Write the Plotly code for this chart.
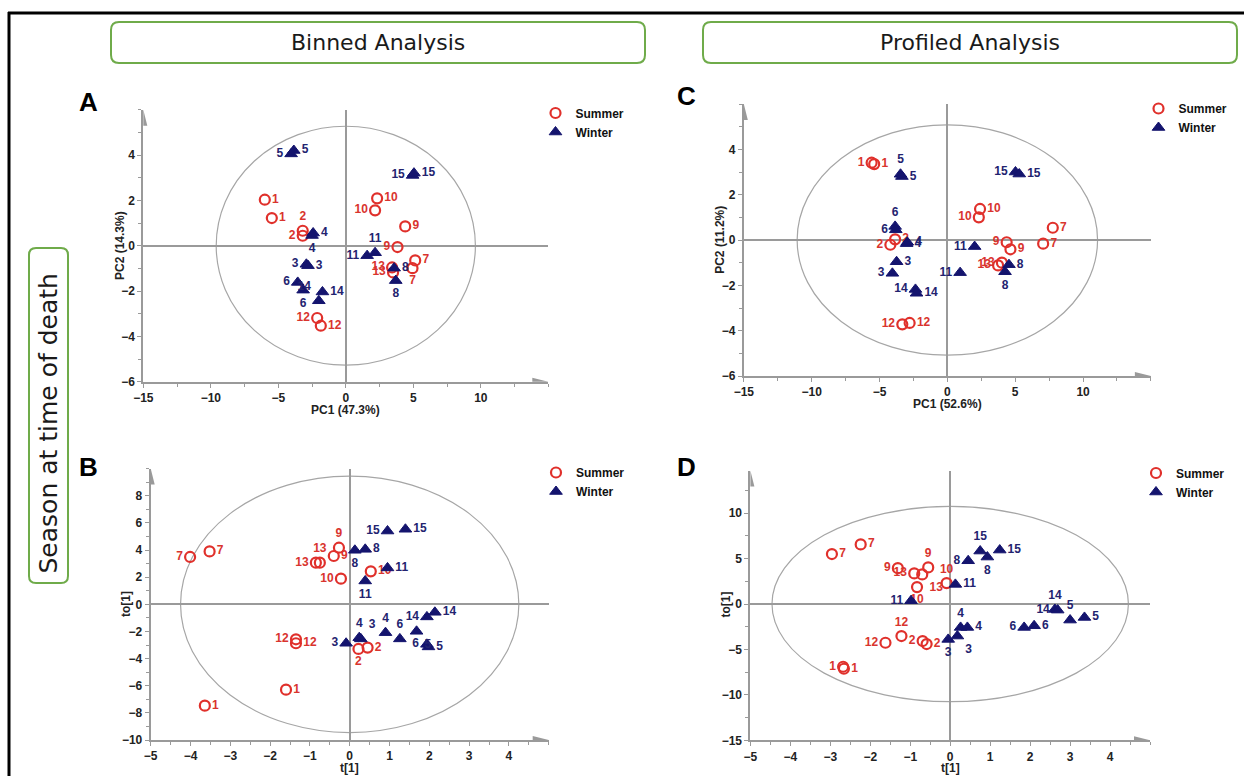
import plotly.graph_objects as go

W, H = 1244, 776

# ---------------- data ----------------
# Panel A : Binned PCA
A_sum_id = [1, 1, 2, 2, 7, 7, 9, 9, 10, 10, 12, 12, 13, 13]
A_sum_x = [-6.0, -5.48, -3.19, -3.19, 5.14, 4.94, 4.4, 3.83, 2.32, 2.17, -2.12, -1.85, 3.43, 3.5]
A_sum_y = [2.03, 1.22, 0.66, 0.44, -0.65, -0.99, 0.85, -0.06, 2.09, 1.56, -3.19, -3.53, -0.96, -1.18]
A_win_id = [3, 3, 4, 4, 5, 5, 6, 6, 8, 8, 11, 11, 14, 14, 15, 15]
A_win_x = [-2.92, -2.8, -2.42, -2.5, -4.05, -3.85, -3.56, -3.16, 3.58, 3.7, 2.17, 1.58, -1.73, -2.0, 4.95, 5.05]
A_win_y = [-0.82, -0.88, 0.56, 0.45, 4.05, 4.2, -1.62, -1.96, -0.99, -1.54, -0.31, -0.44, -2.04, -2.43, 3.1, 3.2]

# Panel B : Binned OPLS-DA
B_sum_id = [1, 1, 2, 2, 7, 7, 9, 9, 10, 10, 12, 12, 13, 13]
B_sum_x = [-1.6, -3.64, 0.22, 0.45, -4.01, -3.52, -0.27, -0.4, -0.22, 0.53, -1.35, -1.35, -0.85, -0.75]
B_sum_y = [-6.29, -7.47, -3.29, -3.19, 3.49, 3.9, 4.17, 3.56, 1.89, 2.43, -2.58, -2.87, 3.07, 3.07]
B_win_id = [3, 3, 4, 4, 5, 5, 6, 6, 8, 8, 11, 11, 14, 14, 15, 15]
B_win_x = [-0.09, 0.28, 0.24, 0.9, 1.68, 1.98, 1.26, 1.94, 0.13, 0.39, 0.95, 0.39, 2.14, 1.94, 0.95, 1.4]
B_win_y = [-2.87, -2.55, -2.46, -2.09, -1.99, -3.14, -2.55, -2.95, 3.98, 4.05, 2.68, 1.72, -0.59, -0.93, 5.4, 5.53]

# Panel C : Profiled PCA
C_sum_id = [1, 1, 2, 2, 7, 7, 9, 9, 10, 10, 12, 12, 13, 13]
C_sum_x = [-5.58, -5.39, -3.85, -4.2, 7.77, 7.06, 4.37, 4.65, 2.41, 2.32, -3.32, -2.78, 3.74, 4.02]
C_sum_y = [3.41, 3.35, 0.03, -0.21, 0.54, -0.16, -0.1, -0.41, 1.37, 1.0, -3.72, -3.66, -1.12, -1.0]
C_win_id = [3, 3, 4, 4, 5, 5, 6, 6, 8, 8, 11, 11, 14, 14, 15, 15]
C_win_x = [-3.74, -4.05, -3.0, -2.95, -3.45, -3.35, -3.85, -3.8, 4.54, 4.25, 2.01, 0.94, -2.35, -2.27, 5.02, 5.3]
C_win_y = [-0.96, -1.47, -0.16, -0.1, 2.9, 2.8, 0.6, 0.45, -1.09, -1.4, -0.29, -1.44, -2.18, -2.35, 3.0, 2.91]

# Panel D : Profiled OPLS-DA
D_sum_id = [1, 1, 2, 2, 7, 7, 9, 9, 10, 10, 12, 12, 13, 13]
D_sum_x = [-2.68, -2.66, -0.69, -0.59, -2.96, -2.24, -1.31, -0.55, -0.83, -0.09, -1.22, -1.62, -0.9, -0.7]
D_sum_y = [-6.9, -7.12, -4.07, -4.4, 5.51, 6.57, 3.96, 4.04, 1.87, 2.31, -3.52, -4.26, 3.38, 3.27]
D_win_id = [3, 3, 4, 4, 5, 5, 6, 6, 8, 8, 11, 11, 14, 14, 15, 15]
D_win_x = [-0.05, 0.18, 0.26, 0.43, 3.0, 3.36, 1.85, 2.1, 0.45, 0.93, 0.13, -0.98, 2.62, 2.69, 0.75, 1.24]
D_win_y = [-3.89, -3.52, -2.57, -2.57, -1.76, -1.47, -2.57, -2.39, 4.77, 5.18, 2.17, 0.37, -0.59, -0.66, 5.84, 5.95]

# Hotelling ellipse semi-axes (x, y) per panel
ellipse_A = [9.6, 5.27]
ellipse_B = [4.25, 9.45]
ellipse_C = [11.07, 5.08]
ellipse_D = [4.46, 10.75]

# axis titles / tick labels
x_titles = ["PC1 (47.3%)", "t[1]", "PC1 (52.6%)", "t[1]"]
y_titles = ["PC2 (14.3%)", "to[1]", "PC2 (11.2%)", "to[1]"]
A_xticks = [-15, -10, -5, 0, 5, 10]
A_yticks = [-6, -4, -2, 0, 2, 4]
B_xticks = [-5, -4, -3, -2, -1, 0, 1, 2, 3, 4]
B_yticks = [-10, -8, -6, -4, -2, 0, 2, 4, 6, 8]
C_xticks = [-15, -10, -5, 0, 5, 10]
C_yticks = [-6, -4, -2, 0, 2, 4]
D_xticks = [-5, -4, -3, -2, -1, 0, 1, 2, 3, 4]
D_yticks = [-15, -10, -5, 0, 5, 10]
series_names = ["Summer", "Winter"]
panel_letters = ["A", "B", "C", "D"]
headers = ["Binned Analysis", "Profiled Analysis"]
side_label = "Season at time of death"

# ---------------- styles ----------------
POS = {"R": "middle right", "L": "middle left", "T": "top center", "B": "bottom center",
       "BR": "bottom right", "TR": "top right", "TL": "top left", "BL": "bottom left"}
A_sum_pos = ["R", "R", "T", "L", "R", "B", "R", "L", "R", "L", "L", "R", "L", "L"]
A_win_pos = ["L", "R", "R", "B", "L", "R", "L", "B", "R", "B", "T", "L", "R", "TL", "L", "R"]
B_sum_pos = ["R", "R", "B", "R", "L", "R", "T", "R", "L", "R", "L", "R", "L", "T"]
B_win_pos = ["L", "TR", "T", "T", "BR", "R", "T", "L", "B", "R", "R", "B", "R", "L", "L", "R"]
C_sum_pos = ["L", "R", "R", "L", "R", "R", "L", "R", "R", "L", "L", "R", "L", "L"]
C_win_pos = ["R", "L", "R", "R", "T", "R", "T", "L", "R", "B", "L", "L", "L", "R", "L", "R"]
D_sum_pos = ["L", "R", "L", "R", "R", "R", "L", "T", "B", "T", "T", "L", "L", "BR"]
D_win_pos = ["B", "BR", "T", "R", "T", "R", "L", "R", "L", "B", "R", "L", "T", "L", "T", "R"]

RED = "#e0302b"
RED_T = "#d9342e"
NAVY = "#14146e"
NAVY_T = "#23236f"
GRAY = "#9a9a9a"
GREEN = "#6fab4a"
FONT = "Liberation Sans, Arial, sans-serif"
HFONT = "DejaVu Sans, Liberation Sans, sans-serif"


def px(x):
    return x / W


def py(y):
    return 1 - y / H


panels = [
    dict(sx=A_sum_x, sy=A_sum_y, sid=A_sum_id, spos=A_sum_pos, wx=A_win_x, wy=A_win_y, wid=A_win_id, wpos=A_win_pos,
         xr=[-15, 15], yr=[-6, 6], xt=A_xticks, yt=A_yticks, xm=2.5, ym=1, ell=ellipse_A,
         box=[143.3, 109.7, 548.3, 381.7], leg=(566.5, 110.5)),
    dict(sx=B_sum_x, sy=B_sum_y, sid=B_sum_id, spos=B_sum_pos, wx=B_win_x, wy=B_win_y, wid=B_win_id, wpos=B_win_pos,
         xr=[-5, 5], yr=[-10, 10], xt=B_xticks, yt=B_yticks, xm=0.5, ym=1, ell=ellipse_B,
         box=[150.7, 468.6, 548.7, 740.0], leg=(567, 470)),
    dict(sx=C_sum_x, sy=C_sum_y, sid=C_sum_id, spos=C_sum_pos, wx=C_win_x, wy=C_win_y, wid=C_win_id, wpos=C_win_pos,
         xr=[-15, 15], yr=[-6, 6], xt=C_xticks, yt=C_yticks, xm=2.5, ym=1, ell=ellipse_C,
         box=[743.8, 104.0, 1150.9, 376.0], leg=(1169.5, 106)),
    dict(sx=D_sum_x, sy=D_sum_y, sid=D_sum_id, spos=D_sum_pos, wx=D_win_x, wy=D_win_y, wid=D_win_id, wpos=D_win_pos,
         xr=[-5, 5], yr=[-15, 14.7], xt=D_xticks, yt=D_yticks, xm=0.5, ym=2.5, ell=ellipse_D,
         box=[750.4, 470.6, 1150.0, 740.3], leg=(1167, 470.5)),
]

fig = go.Figure()
shapes = []
annotations = []
layout = {}
tickfont = dict(family=FONT, size=12, color="#222222", weight="bold")
titlefont = dict(family=FONT, size=12, color="#222222", weight="bold")

for i, p in enumerate(panels):
    n = "" if i == 0 else str(i + 1)
    xa, ya = "x" + n, "y" + n
    leg = "legend" + n
    x0, y0, x1, y1 = p["box"]
    fig.add_trace(go.Scatter(
        x=p["sx"], y=p["sy"], text=[str(v) for v in p["sid"]], mode="markers+text",
        textposition=[POS[c] for c in p["spos"]], name=series_names[0],
        marker=dict(symbol="circle-open", size=10, color=RED, line=dict(width=2.2, color=RED)),
        textfont=dict(family=FONT, size=12, color=RED_T, weight="bold"),
        xaxis=xa, yaxis=ya, legend=leg, cliponaxis=False, hoverinfo="skip"))
    fig.add_trace(go.Scatter(
        x=p["wx"], y=p["wy"], text=[str(v) for v in p["wid"]], mode="markers+text",
        textposition=[POS[c] for c in p["wpos"]], name=series_names[1],
        marker=dict(symbol="triangle-up", size=11, color=NAVY, line=dict(width=1, color=NAVY)),
        textfont=dict(family=FONT, size=12, color=NAVY_T, weight="bold"),
        xaxis=xa, yaxis=ya, legend=leg, cliponaxis=False, hoverinfo="skip"))

    nx = int(round((p["xr"][1] - p["xr"][0]) / p["xm"]))
    ny = int(round((p["yr"][1] - p["yr"][0]) / p["ym"]))
    xmin = [p["xr"][0] + k * p["xm"] for k in range(nx + 1)]
    xmin = [v for v in xmin if all(abs(v - t) > 1e-6 for t in p["xt"])]
    ymin = [p["yr"][0] + k * p["ym"] for k in range(ny + 1)]
    ymin = [v for v in ymin if all(abs(v - t) > 1e-6 for t in p["yt"])]
    axcommon = dict(showgrid=False, zeroline=True, zerolinecolor=GRAY, zerolinewidth=1.5,
                    showline=True, linecolor=GRAY, linewidth=2, ticks="outside", ticklen=4,
                    tickcolor=GRAY, tickwidth=1, tickfont=tickfont, fixedrange=True, automargin=False)
    layout["xaxis" + n] = dict(domain=[px(x0), px(x1)], range=p["xr"], anchor=ya, tickmode="array",
                               tickvals=p["xt"], minor=dict(tickmode="array", tickvals=xmin, ticks="outside",
                                                            ticklen=3, tickcolor=GRAY, showgrid=False),
                               **axcommon)
    layout["yaxis" + n] = dict(domain=[py(y1), py(y0)], range=p["yr"], anchor=xa, tickmode="array",
                               tickvals=p["yt"], minor=dict(tickmode="array", tickvals=ymin, ticks="outside",
                                                            ticklen=3, tickcolor=GRAY, showgrid=False),
                               **axcommon)
    # confidence ellipse
    ex, ey = p["ell"]
    shapes.append(dict(type="circle", xref=xa, yref=ya, x0=-ex, x1=ex, y0=-ey, y1=ey,
                       line=dict(color="#a6a6a6", width=1.2), layer="below"))
    # axis arrow heads
    shapes.append(dict(type="path", xref=xa, yref=ya, xsizemode="pixel", ysizemode="pixel",
                       xanchor=p["xr"][1], yanchor=p["yr"][0], path="M-16,-4 L0,0 L-16,4 Z",
                       fillcolor=GRAY, line=dict(width=0)))
    shapes.append(dict(type="path", xref=xa, yref=ya, xsizemode="pixel", ysizemode="pixel",
                       xanchor=p["xr"][0], yanchor=p["yr"][1], path="M-4,-16 L0,0 L4,-16 Z",
                       fillcolor=GRAY, line=dict(width=0)))
    # axis titles
    cx = x0 + (0 - p["xr"][0]) / (p["xr"][1] - p["xr"][0]) * (x1 - x0)
    cy = y1 - (0 - p["yr"][0]) / (p["yr"][1] - p["yr"][0]) * (y1 - y0)
    annotations.append(dict(text=x_titles[i], xref="paper", yref="paper", x=px(cx), y=py(y1 + 28),
                            xanchor="center", yanchor="middle", showarrow=False, font=titlefont))
    annotations.append(dict(text=y_titles[i], xref="paper", yref="paper", x=px(x0 - 24), y=py(cy),
                            xanchor="center", yanchor="middle", textangle=-90, showarrow=False,
                            font=titlefont))
    # legend
    lx, ly = p["leg"]
    layout[leg] = dict(x=px(lx - 31), y=py(ly - 12), xanchor="left", yanchor="top",
                       bgcolor="rgba(0,0,0,0)", tracegroupgap=0, itemwidth=30,
                       font=dict(family=FONT, size=12, color="#111", weight="bold"))

# panel letters
for letter, (lx, ly) in zip(panel_letters, [(88, 102), (88, 467), (686, 96), (686, 467)]):
    annotations.append(dict(text=letter, xref="paper", yref="paper", x=px(lx), y=py(ly), showarrow=False,
                            xanchor="center", yanchor="middle",
                            font=dict(family=FONT, size=26, color="#000", weight="bold")))


def rrect(x0, y0, x1, y1, r):
    X = lambda v: f"{px(v):.5f}"
    Y = lambda v: f"{py(v):.5f}"
    return (f"M {X(x0 + r)},{Y(y0)} L {X(x1 - r)},{Y(y0)} Q {X(x1)},{Y(y0)} {X(x1)},{Y(y0 + r)} "
            f"L {X(x1)},{Y(y1 - r)} Q {X(x1)},{Y(y1)} {X(x1 - r)},{Y(y1)} L {X(x0 + r)},{Y(y1)} "
            f"Q {X(x0)},{Y(y1)} {X(x0)},{Y(y1 - r)} L {X(x0)},{Y(y0 + r)} Q {X(x0)},{Y(y0)} {X(x0 + r)},{Y(y0)} Z")


for (bx0, by0, bx1, by1), txt in zip([(111, 22, 645, 63), (703, 22, 1237, 63)], headers):
    shapes.append(dict(type="path", xref="paper", yref="paper", path=rrect(bx0, by0, bx1, by1, 8),
                       line=dict(color=GREEN, width=2)))
    annotations.append(dict(text=txt, xref="paper", yref="paper", x=px((bx0 + bx1) / 2), y=py((by0 + by1) / 2),
                            xanchor="center", yanchor="middle", showarrow=False,
                            font=dict(family=HFONT, size=22, color="#1a1a1a")))

shapes.append(dict(type="path", xref="paper", yref="paper", path=rrect(29, 248, 68, 583, 7),
                   line=dict(color=GREEN, width=2)))
annotations.append(dict(text=side_label, xref="paper", yref="paper", x=px(48.5), y=py(424), textangle=-90,
                        xanchor="center", yanchor="middle", showarrow=False,
                        font=dict(family=HFONT, size=25, color="#1a1a1a")))

# frame lines
shapes.append(dict(type="line", xref="paper", yref="paper", x0=px(8), x1=1, y0=py(13), y1=py(13),
                   line=dict(color="#000", width=3)))
shapes.append(dict(type="line", xref="paper", yref="paper", x0=px(9), x1=px(9), y0=py(12), y1=0,
                   line=dict(color="#000", width=3)))

fig.update_layout(width=W, height=H, margin=dict(l=0, r=0, t=0, b=0, pad=0), paper_bgcolor="white",
                  plot_bgcolor="white", shapes=shapes, annotations=annotations, showlegend=True, **layout)
fig.write_html("out.html")
